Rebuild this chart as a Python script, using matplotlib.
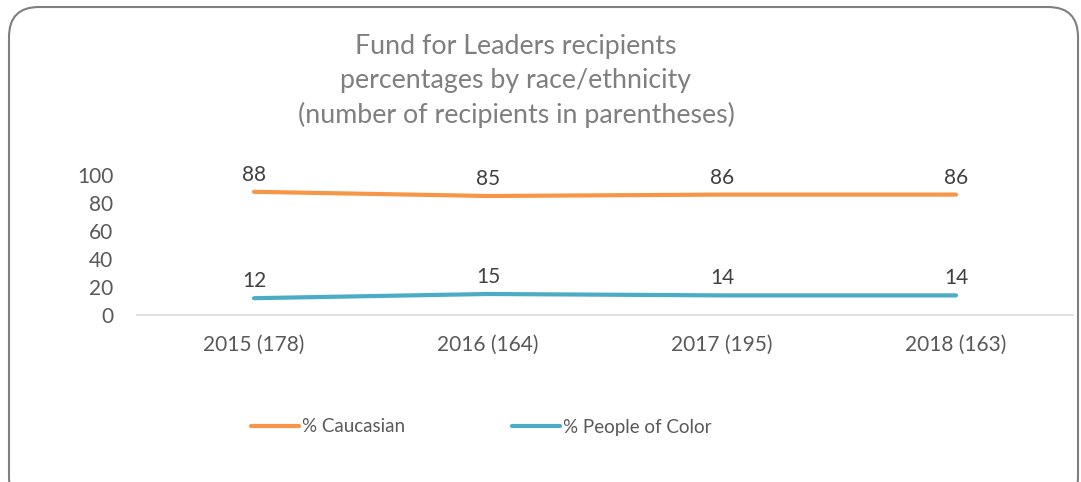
import matplotlib
matplotlib.use('Agg')
import matplotlib.pyplot as plt
from matplotlib.patches import FancyBboxPatch

# recipients per year, share by race/ethnicity
YEARS = ['2015 (178)', '2016 (164)', '2017 (195)', '2018 (163)']
PCT_CAUCASIAN = [88, 85, 86, 86]
PCT_POC = [12, 15, 14, 14]
SERIES_NAMES = ['% Caucasian', '% People of Color']
SERIES_COLORS = ['#F79646', '#4BACC6']

TITLE = ('Fund for Leaders recipients\n'
         'percentages by race/ethnicity\n'
         '(number of recipients in parentheses)')

W, H = 1081, 482

plt.rcParams['font.family'] = ['Lato', 'DejaVu Sans']

fig = plt.figure(figsize=(W / 100, H / 100), dpi=100)

# background layer in pixel coordinates for the rounded frame
bg = fig.add_axes([0, 0, 1, 1], zorder=-1)
bg.set_xlim(0, W)
bg.set_ylim(H, 0)
bg.axis('off')
bg.add_patch(FancyBboxPatch((9, 7), 1069, 500,
                            boxstyle='round,pad=0,rounding_size=30',
                            facecolor='white', edgecolor='#7F7F7F',
                            linewidth=1.5))

fig.text(516 / W, 1 - 81 / H, TITLE, ha='center', va='center',
         fontsize=19.3, color='#7F7F7F', linespacing=1.45)

ax = fig.add_axes([137 / W, 1 - 315 / H, 936 / W, 140 / H])
ax.patch.set_alpha(0)

x = range(len(YEARS))
for values, name, color in zip([PCT_CAUCASIAN, PCT_POC], SERIES_NAMES, SERIES_COLORS):
    ax.plot(x, values, color=color, lw=3, solid_capstyle='round',
            label=name, clip_on=False)
    for xi, v in zip(x, values):
        ax.annotate(str(v), (xi, v), xytext=(0, 5), textcoords='offset points',
                    ha='center', va='bottom', fontsize=15, color='#404040')

ax.set_xlim(-0.5, len(YEARS) - 0.5)
ax.set_ylim(0, 100)
ax.set_yticks(range(0, 101, 20))
ax.set_xticks(list(x))
ax.set_xticklabels(YEARS)
ax.tick_params(axis='both', length=0, labelsize=15, labelcolor='#595959')
ax.tick_params(axis='y', pad=17)
ax.tick_params(axis='x', pad=14)

for side in ['top', 'right', 'left']:
    ax.spines[side].set_visible(False)
ax.spines['bottom'].set_color('#D9D9D9')
ax.spines['bottom'].set_linewidth(1.2)

fig.legend(loc='center', bbox_to_anchor=(481 / W, 1 - 427 / H), ncol=2,
           frameon=False, fontsize=13.5, labelcolor='#595959',
           handlelength=2.56, handletextpad=0.15, columnspacing=5.7)

fig.savefig('out.png', dpi=100)
